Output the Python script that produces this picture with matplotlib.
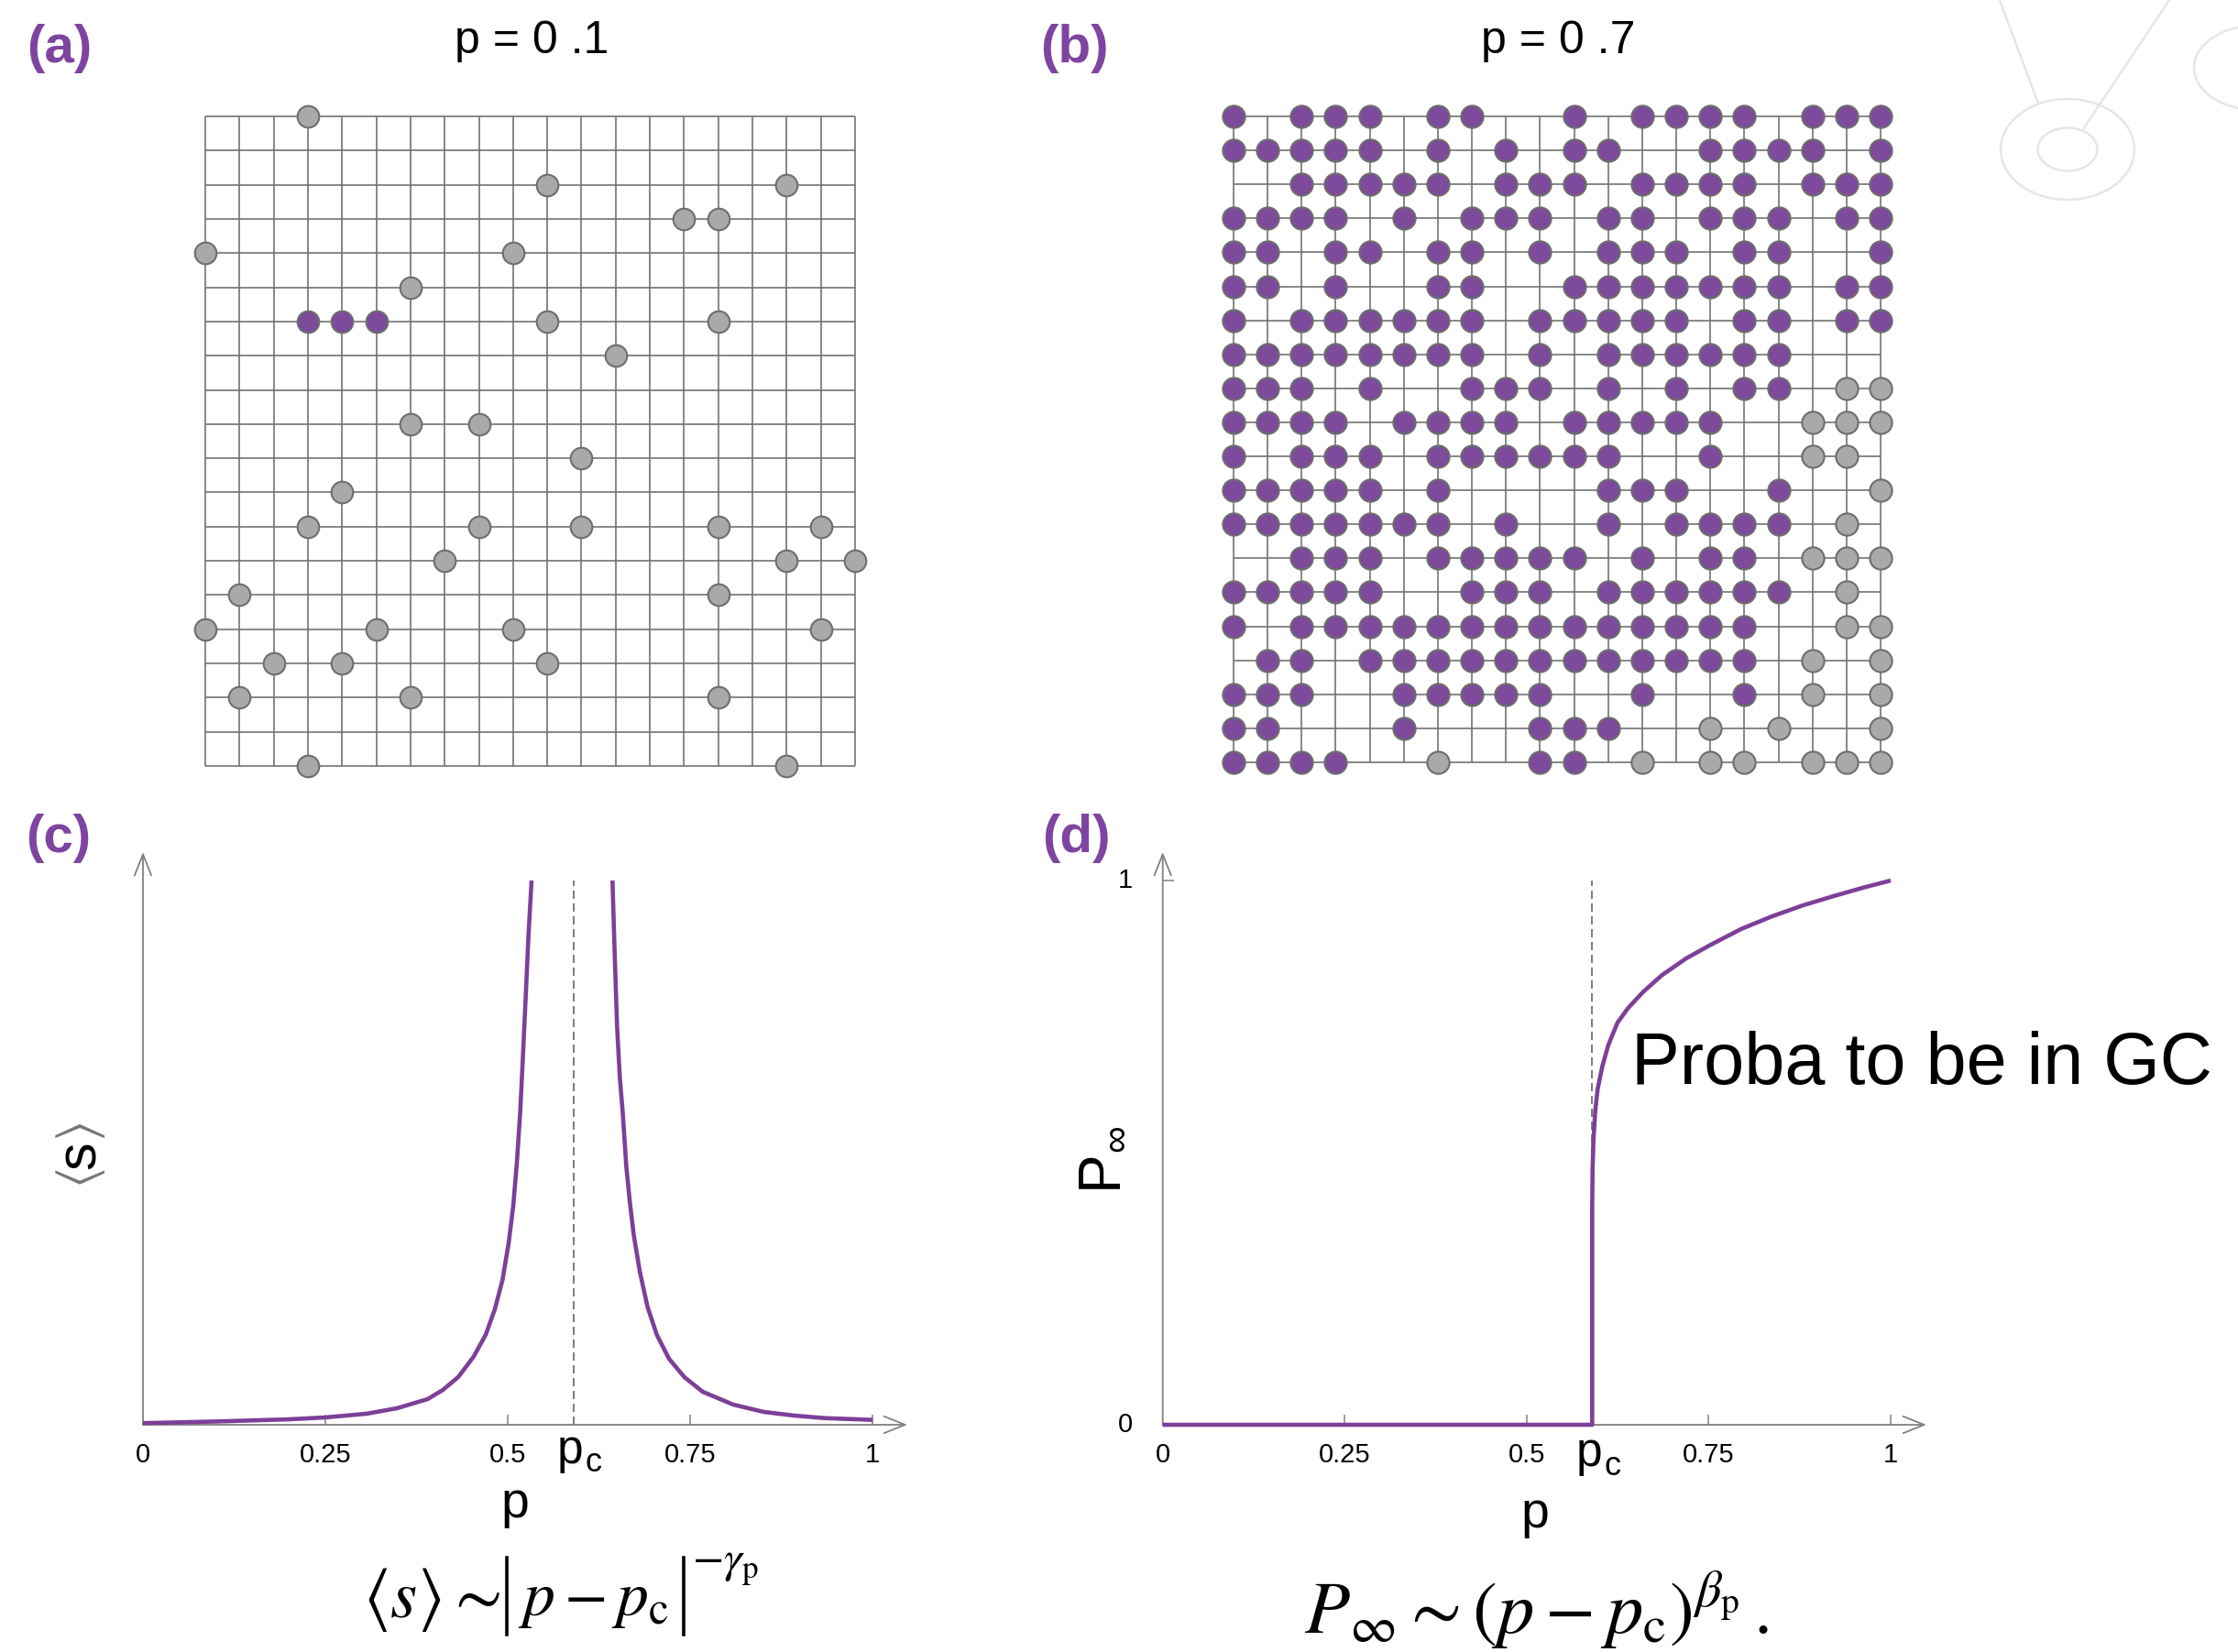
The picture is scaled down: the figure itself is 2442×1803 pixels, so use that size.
import matplotlib
matplotlib.use("Agg")
import matplotlib.pyplot as plt
from matplotlib.patches import Ellipse
from matplotlib.lines import Line2D

plt.rcParams["mathtext.fontset"] = "stix"
plt.rcParams["font.family"] = ["Liberation Sans", "DejaVu Sans"]

W, H = 2442, 1803

# ---- site lattices: '.' empty, 'g' occupied (small cluster), 'p' occupied (largest cluster)
LATTICE_P01 = [
    "...g................",
    "....................",
    "..........g......g..",
    "..............gg....",
    "g........g..........",
    "......g.............",
    "...ppp....g....g....",
    "............g.......",
    "....................",
    "......g.g...........",
    "...........g........",
    "....g...............",
    "...g....g..g...g..g.",
    ".......g.........g.g",
    ".g.............g....",
    "g....g...g........g.",
    "..g.g.....g.........",
    ".g....g........g....",
    "....................",
    "...g.............g..",
]

LATTICE_P07 = [
    "p.ppp.pp..p.pppp.ppp",
    "ppppp.p.p.pp..pppp.p",
    "..ppppp.ppp.pppp.ppp",
    "pppp.p.ppp.pp.ppp.pp",
    "pp.pp.pp.p.ppp.pp..p",
    "pp.p..pp..ppppppp.pp",
    "p.pppppp.ppppp.pp.pp",
    "pppppppp.p.pppppp...",
    "ppp.p..ppp.p.p.pp.gg",
    "pppp.pppp.ppppp..ggg",
    "p.ppp.pppppp..p..gg.",
    "ppppp.p....ppp..p..g",
    "ppppppp.p..p.pppp.g.",
    "..ppp.ppppp.p.pp.ggg",
    "ppppp..ppp.pppppp.g.",
    "p.pppppppppppppp..gg",
    ".pp.pppppppppppp.g.g",
    "ppp..ppppp..p..p.g.g",
    "pp...p...ppp..g.g..g",
    "pppp..g..pp.g.gg.ggg",
]

TITLE_A = "p = 0 .1"
TITLE_B = "p = 0 .7"

# ---- percolation threshold and axis ticks
P_C = 0.59
TICKS = [0, 0.25, 0.5, 0.75, 1]
TICK_LABELS = ["0", "0.25", "0.5", "0.75", "1"]

# ---- mean cluster size <s>(p), normalised to the top of the panel
P_S_LEFT = [0.0, 0.10, 0.20, 0.25, 0.3065, 0.3484, 0.3903, 0.4112, 0.4322,
            0.4531, 0.4698, 0.4824, 0.4929, 0.5013, 0.5075, 0.5126, 0.5172,
            0.5209, 0.5251, 0.5285, 0.5327]
S_LEFT = [0.003, 0.006, 0.010, 0.0135, 0.0203, 0.0304, 0.0472, 0.0641, 0.0877,
          0.1248, 0.1653, 0.2125, 0.2664, 0.3339, 0.4013, 0.4823, 0.5767,
          0.6779, 0.7993, 0.9005, 1.0]
P_S_RIGHT = [0.6436, 0.6466, 0.6499, 0.6537, 0.6575, 0.6625, 0.6675, 0.6729,
             0.6813, 0.6918, 0.7044, 0.7211, 0.7420, 0.7672, 0.8090, 0.8509,
             0.8928, 0.9347, 1.0]
S_RIGHT = [1.0, 0.8667, 0.7318, 0.6374, 0.5767, 0.4755, 0.4081, 0.3474,
           0.2799, 0.2159, 0.1653, 0.1214, 0.0877, 0.0607, 0.0371, 0.0236,
           0.0169, 0.0122, 0.009]

# ---- probability to belong to the giant component P_inf(p)
P_INF_P = [0.0, 0.590, 0.590, 0.5905, 0.5917, 0.5942, 0.5975, 0.6038, 0.6122,
           0.6248, 0.6395, 0.6605, 0.6857, 0.7192, 0.7529, 0.7948, 0.8367,
           0.8787, 0.9207, 0.9626, 1.0]
P_INF = [0.0, 0.0, 0.40, 0.47, 0.523, 0.577, 0.617, 0.658, 0.698, 0.739,
         0.766, 0.796, 0.826, 0.857, 0.882, 0.911, 0.934, 0.954, 0.971,
         0.987, 1.0]

# ---- colours
PURPLE = "#7e4a9b"
PURPLE_LINE = "#7d3f98"
LABEL_PURPLE = "#7e45a0"
NODE_GRAY = "#a9a9a9"
NODE_EDGE = "#6e6e6e"
GRID_C = "#737373"
AXIS_C = "#808080"
DASH_C = "#666666"
LOGO_C = "#e2e7eb"

fig = plt.figure(figsize=(W / 100, H / 100), dpi=100)


def px_axes(x0, y0, x1, y1, **kw):
    """Axes placed by pixel box (origin at top-left of the figure)."""
    return fig.add_axes([x0 / W, 1 - y1 / H, (x1 - x0) / W, (y1 - y0) / H], **kw)


def ftext(x, y, s, **kw):
    return fig.text(x / W, 1 - y / H, s, **kw)


def fbar(x, y0, y1, lw=2.6):
    """Vertical bar (absolute-value sign) in figure pixel coordinates."""
    fig.add_artist(Line2D([x / W, x / W], [1 - y0 / H, 1 - y1 / H],
                          transform=fig.transFigure, color="black", lw=lw))


# ---- faint logo in the top-right corner
bg = px_axes(0, 0, W, H, zorder=-5)
bg.set_xlim(0, W)
bg.set_ylim(H, 0)
bg.axis("off")
for (cx, cy, ew, eh) in [(2256, 163, 146, 110), (2256, 163, 65, 47), (2462, 74, 136, 92)]:
    bg.add_patch(Ellipse((cx, cy), ew, eh, fill=False, ec=LOGO_C, lw=1.8))
bg.plot([2182, 2224], [0, 113], color=LOGO_C, lw=1.8)
bg.plot([2367, 2273], [0, 141], color=LOGO_C, lw=1.8)


def draw_lattice(ax, rows, node_size):
    n = len(rows)
    ax.set_xlim(-0.5, n - 0.5)
    ax.set_ylim(n - 0.5, -0.5)
    ax.axis("off")
    ax.hlines(range(n), 0, n - 1, color=GRID_C, lw=1.2, zorder=1)
    ax.vlines(range(n), 0, n - 1, color=GRID_C, lw=1.2, zorder=1)
    for state, fc in (("g", NODE_GRAY), ("p", PURPLE)):
        xs, ys = [], []
        for r, line in enumerate(rows):
            for c, ch in enumerate(line):
                if ch == state:
                    xs.append(c)
                    ys.append(r)
        ax.scatter(xs, ys, s=node_size, facecolor=fc, edgecolor=NODE_EDGE,
                   linewidths=1.5, zorder=3, clip_on=False)


ax_a = px_axes(224 - 18.65, 127 - 18.65, 933 + 18.65, 836 + 18.65)
draw_lattice(ax_a, LATTICE_P01, 290)
ax_b = px_axes(1346 - 18.58, 127 - 18.55, 2052 + 18.58, 832 + 18.55)
draw_lattice(ax_b, LATTICE_P07, 305)

ftext(580, 58, TITLE_A, fontsize=36, ha="center", va="baseline")
ftext(1700, 58, TITLE_B, fontsize=36, ha="center", va="baseline")

for lab, (x, y) in zip(["(a)", "(b)", "(c)", "(d)"],
                       [(65, 53), (1172, 53), (64, 915), (1174, 915)]):
    ftext(x, y, lab, fontsize=42, fontweight="bold", color=LABEL_PURPLE,
          ha="center", va="center")


def setup_plot(x0, x_tip, unit_x, y_axis=1555, y_tip=930, unit_y=594):
    ax = px_axes(x0, y_tip, x_tip, y_axis)
    xmax = (x_tip - x0) / unit_x
    ymax = (y_axis - y_tip) / unit_y
    ax.set_xlim(0, xmax)
    ax.set_ylim(0, ymax)
    ax.axis("off")
    arrow = dict(arrowstyle="->,head_length=0.55,head_width=0.22", color=AXIS_C,
                 lw=1.3, shrinkA=0, shrinkB=0, mutation_scale=30)
    ax.annotate("", xy=(xmax, 0), xytext=(0, 0), arrowprops=arrow, annotation_clip=False)
    ax.annotate("", xy=(0, ymax), xytext=(0, 0), arrowprops=arrow, annotation_clip=False)
    ax.vlines(TICKS[1:], 0, 11 / unit_y, color=AXIS_C, lw=1.1)
    for t, lab in zip(TICKS, TICK_LABELS):
        ax.text(t, -33 / unit_y, lab, fontsize=21, ha="center", va="center")
    ax.plot([P_C, P_C], [0, 1], color=DASH_C, lw=1.2, dashes=(5.4, 3.0), zorder=2)
    return ax


# ---- (c) mean cluster size
ax_c = setup_plot(156, 990, 796)
for px_, sy_ in ((P_S_LEFT, S_LEFT), (P_S_RIGHT, S_RIGHT)):
    ax_c.plot(px_, sy_, color=PURPLE_LINE, lw=3.3, zorder=3, solid_capstyle="butt",
              solid_joinstyle="round", clip_on=False)

ftext(88, 1286, r"$\langle$", fontsize=42, color="#777777", rotation=90,
      ha="center", va="center")
ftext(88, 1261, "s", fontsize=44, rotation=90, ha="center", va="center")
ftext(88, 1236, r"$\rangle$", fontsize=42, color="#777777", rotation=90,
      ha="center", va="center")

ftext(562, 1656, "p", fontsize=40, ha="center", va="baseline")
ftext(622, 1597, "p", fontsize=37, ha="center", va="baseline")
ftext(647, 1606, "c", fontsize=26, ha="center", va="baseline")

# scaling law for <s>, set piece by piece so the absolute bars can be tall
ftext(396, 1765, r"$\langle s\rangle \sim$", fontsize=54, ha="left", va="baseline")
fbar(553, 1700, 1784)
ftext(565, 1763, r"$p - p_{\mathrm{c}}$", fontsize=50, ha="left", va="baseline")
fbar(746, 1700, 1784)
ftext(755, 1716, r"$-\gamma_{\mathrm{p}}$", fontsize=36, ha="left", va="baseline")

# ---- (d) giant component
ax_d = setup_plot(1268.7, 2102, 794.3)
ax_d.hlines(1, 0, 12 / 794.3, color=AXIS_C, lw=1.1)
ax_d.plot(P_INF_P, P_INF, color=PURPLE_LINE, lw=3.3, zorder=3,
          solid_capstyle="butt", solid_joinstyle="round", clip_on=False)

ftext(1228, 961, "1", fontsize=21, ha="center", va="center")
ftext(1228, 1555, "0", fontsize=21, ha="center", va="center")
ftext(1201, 1276, "P", fontsize=46, rotation=90, ha="center", va="center")
ftext(1219, 1242, "\u221e", fontsize=30, rotation=90, ha="center", va="center")

ftext(1675, 1667, "p", fontsize=40, ha="center", va="baseline")
ftext(1734, 1600, "p", fontsize=37, ha="center", va="baseline")
ftext(1759, 1610, "c", fontsize=26, ha="center", va="baseline")
ftext(1780, 1183, "Proba to be in GC", fontsize=57, ha="left", va="baseline")
ftext(1423, 1782, r"$P_{\infty} \sim (p - p_{\mathrm{c}})^{\beta_{\mathrm{p}}}\,.$",
      fontsize=58, ha="left", va="baseline")

fig.savefig("out.png", dpi=100)
